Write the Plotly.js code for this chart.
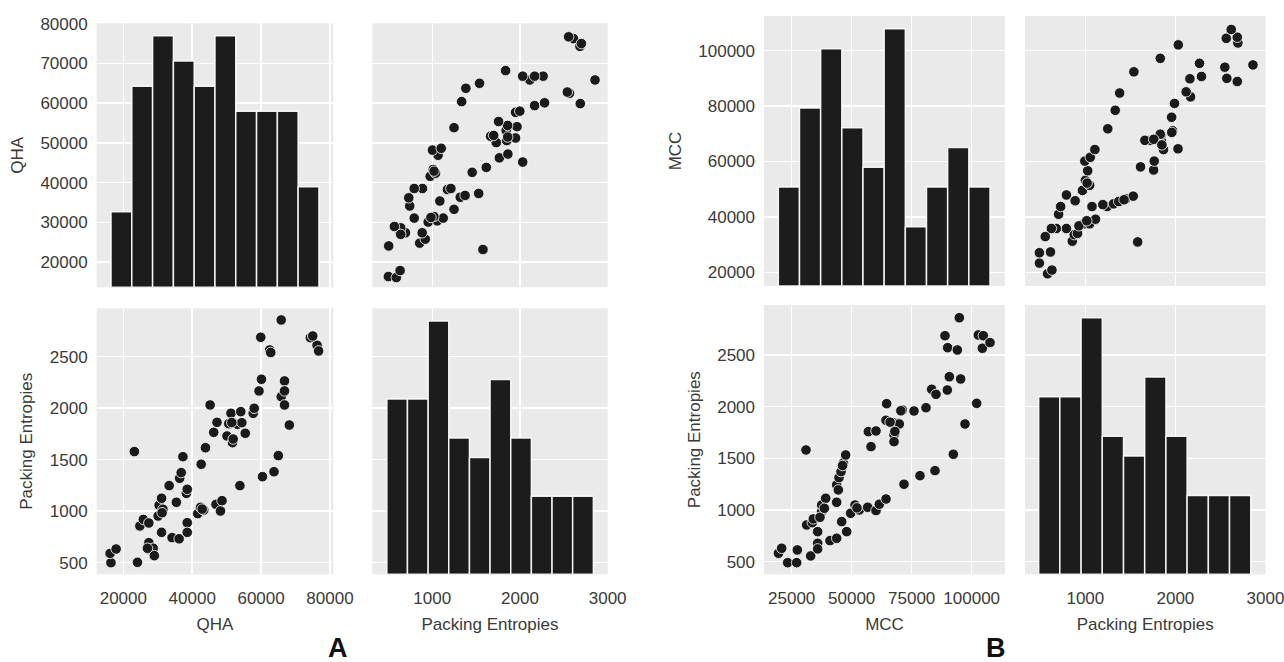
<!DOCTYPE html>
<html><head><meta charset="utf-8">
<script src="https://cdn.plot.ly/plotly-3.0.1.min.js"></script>
<style>html,body{margin:0;padding:0;background:#fff}#chart{width:1284px;height:662px}</style>
</head><body><div id="chart"></div>
<script>
// ---- Panel A data: QHA vs Packing Entropies (73 points) ----
const qhaA = [16400,16150,17900,23200,24100,24800,25800,27400,27400,27400,28650,29000,30100,30400,31100,31500,31250,31100,33300,34150,35400,36200,36350,36800,37300,38300,38550,38550,38550,41600,42400,43350,42600,43850,45200,46250,47200,46900,48200,48650,50100,50600,51250,51700,53150,54100,54400,55400,53850,57700,58000,59400,60100,59900,60400,62500,63750,65000,65850,65850,66800,66800,66800,68200,74300,76250,76700,27000,42900,51500,51900,62800,75000];
const peA  = [500,590,633,1578,503,856,920,885,694,633,640,568,953,1057,1125,1018,985,794,1248,743,1086,732,1319,1374,1529,1173,1212,888,794,976,1037,1011,1455,1616,2031,1765,1862,1066,1002,1102,1730,1849,1950,1665,1843,1966,1859,1756,1248,1950,1998,2167,2280,2688,1335,2565,1383,1539,2856,2112,2264,2167,2031,1836,2684,2610,2555,640,1020,1860,1700,2540,2700];

// ---- Panel B data: MCC vs Packing Entropies (73 points) ----
const mccB = [19500,20830,23330,27080,27360,30970,31250,32920,33610,34030,35830,35830,35830,37500,36800,37500,39170,38610,40970,43750,43750,43750,44440,44720,45560,46530,47500,45830,47920,49580,51390,53190,56670,56950,60140,58060,60140,61530,64310,64580,64310,67360,69440,67640,67640,69860,71110,71800,75970,78470,80970,83330,85140,84720,88890,90000,89860,90700,92360,94030,94860,95420,97220,102090,102780,104860,104450,107640,46200,52200,68000,66000,70500];
const peB  = [581,629,490,490,613,1581,855,555,877,913,790,677,623,984,929,1048,1113,1016,703,726,1074,1242,1194,1313,1371,1452,1532,887,790,968,1048,1000,1026,1758,1765,1613,994,1055,1106,2029,1868,1845,1839,1726,1661,1832,1968,1249,1958,1332,1990,2168,2119,1381,2687,2571,2161,2290,1539,2549,2861,2268,1832,2032,2694,2687,2565,2620,1430,1020,1760,1850,1960];

// ---- Diagonal histograms (bin edges and counts) ----
const qhaBinEdges = [16420,22458,28496,34534,40572,46610,52648,58686,64724,70762,76800];
const qhaCounts   = [3,8,10,9,8,10,7,7,7,4];
const peBinEdges  = [482,717,953,1188,1424,1659,1895,2130,2366,2601,2837];
const peCounts    = [9,9,13,7,6,10,7,4,4,4];
const mccBinEdges = [19440,28260,37080,45900,54720,63540,72360,81180,90000,98820,107640];
const mccCounts   = [5,9,12,8,6,13,3,5,7,5];

const W = 1284, H = 662;
const xd = (l, r) => [l / W, r / W];
const yd = (t, b) => [1 - b / H, 1 - t / H];

const BG = '#EAEAEA', GRID = '#FFFFFF', TXT = '#3a3a3a';
const FONT = 'Liberation Sans, Arial, Helvetica, sans-serif';

function ax(o) {
  return Object.assign({
    showgrid: true, gridcolor: GRID, gridwidth: 1.5, zeroline: false, showline: false,
    ticks: '', tickfont: {size: 17, color: TXT, family: FONT}, ticklabelstandoff: 8,
    fixedrange: true, tick0: 0, tickformat: 'd', ticklabeloverflow: 'allow'
  }, o);
}
function xax(o) { return ax(Object.assign({ticklabelstandoff: 12}, o)); }
function ttl(t, s) { return {text: t, font: {size: 17, color: TXT, family: FONT}, standoff: s}; }
function ovl(on, anchor, dom, top) {
  return {overlaying: on, anchor: anchor, domain: dom, side: 'right', range: [0, top],
    showticklabels: false, showgrid: false, zeroline: false, showline: false, ticks: '', fixedrange: true};
}

const mids = e => e.slice(0, -1).map((v, i) => (v + e[i + 1]) / 2);
const widths = e => e.slice(0, -1).map((v, i) => e[i + 1] - v);

function hist(edges, counts, xa, ya) {
  return {type: 'bar', x: mids(edges), y: counts, width: widths(edges), xaxis: xa, yaxis: ya,
    marker: {color: '#1c1c1c', line: {color: 'rgba(255,255,255,0.9)', width: 1.5}},
    hoverinfo: 'skip', showlegend: false};
}
function scat(x, y, xa, ya) {
  return {type: 'scatter', mode: 'markers', x: x, y: y, xaxis: xa, yaxis: ya,
    marker: {color: '#1a1a1a', size: 10.5, line: {color: '#ffffff', width: 0.8}},
    hoverinfo: 'skip', showlegend: false};
}
// empty placeholder so each diagonal cell keeps its own base subplot
function holder(xa, ya) {
  return {type: 'scatter', mode: 'markers', x: [], y: [], xaxis: xa, yaxis: ya, hoverinfo: 'skip', showlegend: false};
}

const colA1 = xd(96.7, 333.3), colA2 = xd(372.3, 607.7);
const colB1 = xd(764, 1005),  colB2 = xd(1025, 1265.5);
const rowA1 = yd(23.3, 287.3), rowA2 = yd(308.3, 574.3);
const rowB1 = yd(16, 286),     rowB2 = yd(305, 574.3);

const qhaX = [12260, 80970], qhaY = [13690, 80100];
const peXA = [316, 3000.5], peYA = [387, 2969];
const mccX = [13470, 113890], mccY = [15070, 112510];
const peXB = [330, 3000.5], peYB = [377, 2984];

const data = [
  holder('x', 'y'), holder('x4', 'y4'), holder('x5', 'y5'), holder('x8', 'y8'),
  scat(peA, qhaA, 'x2', 'y2'),
  scat(qhaA, peA, 'x3', 'y3'),
  scat(peB, mccB, 'x6', 'y6'),
  scat(mccB, peB, 'x7', 'y7'),
  hist(qhaBinEdges, qhaCounts, 'x', 'y9'),
  hist(peBinEdges, peCounts, 'x4', 'y10'),
  hist(mccBinEdges, mccCounts, 'x5', 'y11'),
  hist(peBinEdges, peCounts, 'x8', 'y12')
];

const layout = {
  width: W, height: H, margin: {l: 0, r: 0, t: 0, b: 0},
  paper_bgcolor: '#ffffff', plot_bgcolor: BG, showlegend: false, hovermode: false,
  bargap: 0,
  // Panel A
  xaxis:  xax({domain: colA1, anchor: 'y',  range: qhaX, dtick: 20000, showticklabels: false}),
  yaxis:  ax({domain: rowA1, anchor: 'x',  range: qhaY, dtick: 10000, title: ttl('QHA', 12)}),
  xaxis2: xax({domain: colA2, anchor: 'y2', range: peXA, dtick: 1000, showticklabels: false}),
  yaxis2: ax({domain: rowA1, anchor: 'x2', range: qhaY, dtick: 10000, showticklabels: false}),
  xaxis3: xax({domain: colA1, anchor: 'y3', range: qhaX, dtick: 20000, title: ttl('QHA', 10)}),
  yaxis3: ax({domain: rowA2, anchor: 'x3', range: peYA, dtick: 500, title: ttl('Packing Entropies', 12)}),
  xaxis4: xax({domain: colA2, anchor: 'y4', range: peXA, dtick: 1000, title: ttl('Packing Entropies', 10)}),
  yaxis4: ax({domain: rowA2, anchor: 'x4', range: peYA, dtick: 500, showticklabels: false}),
  // Panel B
  xaxis5: xax({domain: colB1, anchor: 'y5', range: mccX, dtick: 25000, showticklabels: false}),
  yaxis5: ax({domain: rowB1, anchor: 'x5', range: mccY, dtick: 20000, title: ttl('MCC', 12)}),
  xaxis6: xax({domain: colB2, anchor: 'y6', range: peXB, dtick: 1000, showticklabels: false}),
  yaxis6: ax({domain: rowB1, anchor: 'x6', range: mccY, dtick: 20000, showticklabels: false}),
  xaxis7: xax({domain: colB1, anchor: 'y7', range: mccX, dtick: 25000, title: ttl('MCC', 10)}),
  yaxis7: ax({domain: rowB2, anchor: 'x7', range: peYB, dtick: 500, title: ttl('Packing Entropies', 12)}),
  xaxis8: xax({domain: colB2, anchor: 'y8', range: peXB, dtick: 1000, title: ttl('Packing Entropies', 10)}),
  yaxis8: ax({domain: rowB2, anchor: 'x8', range: peYB, dtick: 500, showticklabels: false}),
  // hidden count axes for the diagonal histograms
  yaxis9:  ovl('y',  'x',  rowA1, 10.5),
  yaxis10: ovl('y4', 'x4', rowA2, 13.65),
  yaxis11: ovl('y5', 'x5', rowB1, 13.65),
  yaxis12: ovl('y8', 'x8', rowB2, 13.65),
  annotations: [
    {text: '<b>A</b>', x: 337.7 / W, y: 1 - 648 / H, xref: 'paper', yref: 'paper', showarrow: false,
     xanchor: 'center', yanchor: 'middle', font: {size: 27, color: '#111', family: FONT}},
    {text: '<b>B</b>', x: 996 / W, y: 1 - 648 / H, xref: 'paper', yref: 'paper', showarrow: false,
     xanchor: 'center', yanchor: 'middle', font: {size: 27, color: '#111', family: FONT}}
  ]
};

Plotly.newPlot('chart', data, layout, {staticPlot: true, displayModeBar: false});
</script>
</body></html>
